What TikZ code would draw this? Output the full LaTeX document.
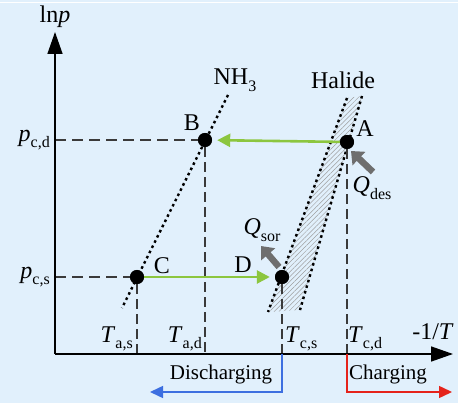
\documentclass[tikz,border=0pt]{standalone}
\usepackage{fontspec}
\setmainfont{Liberation Serif}
\usetikzlibrary{arrows.meta,patterns.meta}
\definecolor{bgblue}{HTML}{E1F0FC}
\definecolor{arrgreen}{HTML}{8CC63F}
\definecolor{arrgray}{HTML}{6E6E6E}
\definecolor{arrblue}{HTML}{3D6FE0}
\definecolor{arrred}{HTML}{E5231B}
\definecolor{guidegray}{HTML}{3A3A3A}
\newcommand\mainf{\fontsize{24}{28}\selectfont}
\newcommand\subf{\fontsize{16}{18}\selectfont}
\newcommand\sbs[1]{\raisebox{-0.28em}{\subf #1}}
\begin{document}
\begin{tikzpicture}[x=1pt,y=-1pt,
  dot/.style={circle,fill=black,inner sep=0pt,minimum size=14pt},
  lbl/.style={inner sep=0pt,font=\mainf},
  small/.style={inner sep=0pt,font=\fontsize{21}{24}\selectfont},
  guide/.style={guidegray,line width=1.2pt,dash pattern=on 11pt off 6pt},
  vguide/.style={guidegray,line width=1.2pt,dash pattern=on 10pt off 5pt},
  isoline/.style={black,line width=2.4pt,dash pattern=on 2.6pt off 3.2pt},
  axis/.style={black,line width=1.5pt,-{Triangle[length=22pt,width=15pt]}},
  greenarr/.style={arrgreen,line width=2.6pt,-{Triangle[length=13pt,width=13pt]}},
  heatarr/.style={arrgray,line width=6.5pt,-{Triangle[length=11pt,width=18pt]}},
  modearr/.style={line width=1.5pt,-{Triangle[length=13pt,width=12pt]}}]
\useasboundingbox (0,0) rectangle (458,403);
\fill[bgblue] (0,0) rectangle (458,403);
\fill[white] (0,2) rectangle (458,3.5);
% coordinates
\coordinate (O) at (55,354);
\coordinate (ytip) at (55,32);
\coordinate (xtip) at (453,354);
\coordinate (hl1) at (347,98);
\coordinate (hl2) at (268,312);
\coordinate (hr1) at (362,96);
\coordinate (hr2) at (300,310);
\coordinate (n1) at (228,95);
\coordinate (n2) at (122,308);
% hatched band
\fill[pattern={Lines[angle=45,distance=3.4pt,line width=0.5pt]},pattern color=gray!75] (hl1) -- (hr1) -- (hr2) -- (hl2) -- cycle;
% isolines
\draw[isoline] (hl1) -- (hl2);
\draw[isoline] (hr1) -- (hr2);
\draw[isoline] (n1) -- (n2);
% state points
\node[dot] (A) at (347,142) {};
\node[dot] (B) at (205,140) {};
\node[dot] (C) at (137,277) {};
\node[dot] (D) at (282,277) {};
% guides
\draw[guide] (O |- B) -- (B);
\draw[guide] (O |- C) -- (C);
\draw[vguide] (B) -- (B |- O);
\draw[vguide] (C) -- (C |- O);
\draw[vguide] (D) -- (D |- O);
\draw[vguide] (A) -- (A |- O);
% axes
\draw[axis] (O) -- (ytip);
\draw[axis] (O) -- (xtip);
% process arrows
\draw[greenarr,shorten >=5pt] (A) -- (B);
\draw[greenarr,shorten >=5pt] (C) -- (D);
\coordinate (qd1) at (373,172);
\coordinate (qd2) at (351,151);
\coordinate (qs1) at (279,267);
\coordinate (qs2) at (261,246);
\draw[heatarr] (qd1) -- (qd2);
\draw[heatarr] (qs1) -- (qs2);
% mode arrows
\coordinate (bl) at (282,392);
\coordinate (bt) at (150,392);
\coordinate (rl) at (347,392);
\coordinate (rt) at (452,392);
\draw[modearr,arrblue] (D |- O) -- (bl) -- (bt);
\draw[modearr,arrred] (A |- O) -- (rl) -- (rt);
\node[dot] at (A) {};
\node[dot] at (B) {};
\node[dot] at (C) {};
\node[dot] at (D) {};
% labels
\node[lbl] (lnp) at (55,17) {ln\textit{p}};
\node[lbl] (nh3) at (235,80) {NH\sbs{3}};
\node[lbl] (hal) at (343,80) {Halide};
\node[lbl] (la) at (365,129) {A};
\node[lbl] (lb) at (192,123) {B};
\node[lbl] (lc) at (162,266) {C};
\node[lbl] (ld) at (243,265) {D};
\node[lbl] (qdes) at (372,188) {\textit{Q}\sbs{des}};
\node[lbl] (qsor) at (262,230) {\textit{Q}\sbs{sor}};
\node[lbl,anchor=east] (pcd) at (50,140) {\textit{p}\sbs{c,d}};
\node[lbl,anchor=east] (pcs) at (50,277) {\textit{p}\sbs{c,s}};
\node[lbl,anchor=east] (tas) at (133,339) {\textit{T}\sbs{a,s}};
\node[lbl,anchor=east] (tad) at (202,339) {\textit{T}\sbs{a,d}};
\node[lbl,anchor=west] (tcs) at (285,339) {\textit{T}\sbs{c,s}};
\node[lbl,anchor=west] (tcd) at (348,339) {\textit{T}\sbs{c,d}};
\node[lbl] (xl) at (433,332) {-1/\textit{T}};
\node[small] (dis) at (221,374) {Discharging};
\node[small] (cha) at (388,374) {Charging};
\end{tikzpicture}
\end{document}
